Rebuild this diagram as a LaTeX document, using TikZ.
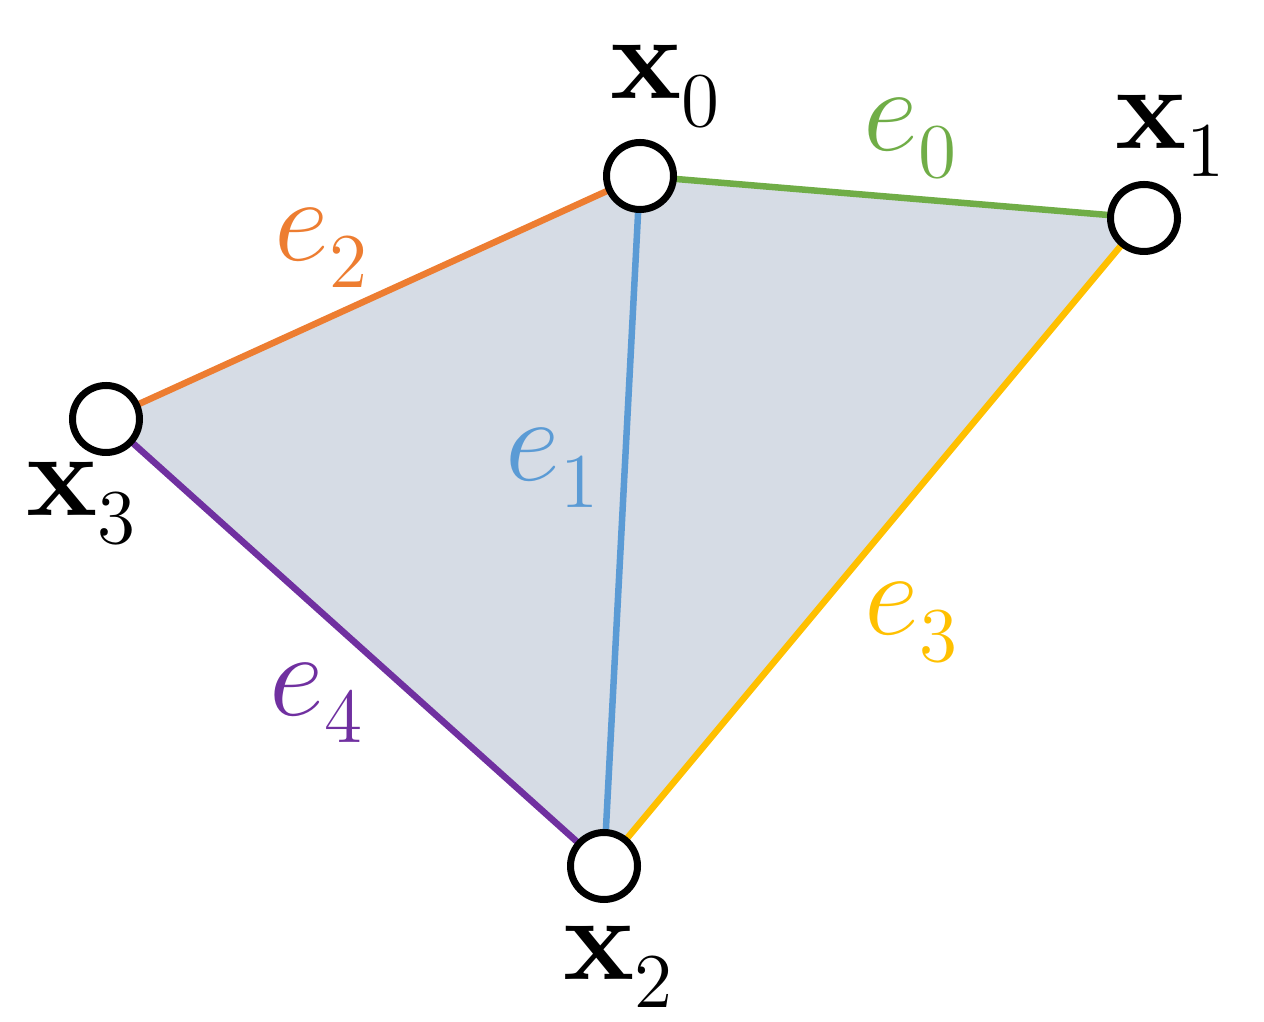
\documentclass[tikz,border=0pt]{standalone}
\usepackage{fix-cm}
\usetikzlibrary{backgrounds}
\DeclareMathSizes{24}{24}{15.5}{12}
\definecolor{cgreen}{RGB}{112,173,71}
\definecolor{corange}{RGB}{237,125,49}
\definecolor{cblue}{RGB}{91,155,213}
\definecolor{cyellow}{RGB}{255,192,0}
\definecolor{cpurple}{RGB}{112,48,160}
\definecolor{cfill}{RGB}{214,220,229}
\newcommand{\lsub}[1]{_{\raisebox{-0.08em}{$\scriptstyle #1$}}}
\begin{document}
\begin{tikzpicture}[x=0.2pt,y=-0.2pt,
  vtx/.style={circle,draw=black,fill=white,line width=1.4pt,minimum size=13.4pt,inner sep=0pt},
  lbl/.style={inner sep=0pt,font=\fontsize{24}{29}\selectfont},
  edgeline/.style={line width=1.3pt}]
\useasboundingbox (0,0) rectangle (1264,1022);
\node[vtx] (x0) at (640,176) {};
\node[vtx] (x1) at (1144,218) {};
\node[vtx] (x2) at (604,866) {};
\node[vtx] (x3) at (106,419) {};
\node[lbl] (lx0) at (666,86) {$\mathbf{x}\lsub{0}$};
\node[lbl] (lx1) at (1171,136) {$\mathbf{x}\lsub{1}$};
\node[lbl] (lx2) at (619,967) {$\mathbf{x}\lsub{2}$};
\node[lbl] (lx3) at (82,503) {$\mathbf{x}\lsub{3}$};
\node[lbl,text=cgreen] (le0) at (911,138) {$e\lsub{0}$};
\node[lbl,text=cblue] (le1) at (553,468) {$e\lsub{1}$};
\node[lbl,text=corange] (le2) at (322,248) {$e\lsub{2}$};
\node[lbl,text=cyellow] (le3) at (912,622) {$e\lsub{3}$};
\node[lbl,text=cpurple] (le4) at (317,703) {$e\lsub{4}$};
\begin{scope}[on background layer]
\fill[cfill] (x0.center) -- (x1.center) -- (x2.center) -- (x3.center) -- cycle;
\draw[edgeline,cgreen] (x0.center) -- (x1.center);
\draw[edgeline,cblue] (x0.center) -- (x2.center);
\draw[edgeline,corange] (x0.center) -- (x3.center);
\draw[edgeline,cyellow] (x1.center) -- (x2.center);
\draw[edgeline,cpurple] (x3.center) -- (x2.center);
\end{scope}
\end{tikzpicture}
\end{document}
